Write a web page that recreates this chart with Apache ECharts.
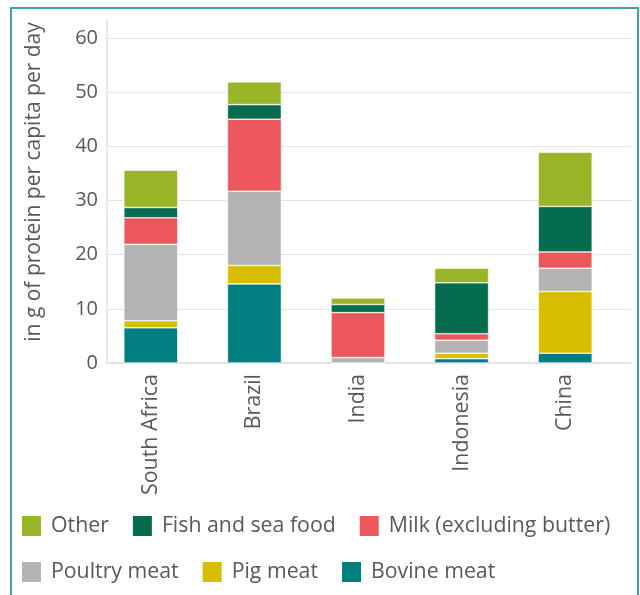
<!DOCTYPE html>
<html>
<head>
<meta charset="utf-8">
<script src="https://cdn.jsdelivr.net/npm/echarts@6/dist/echarts.min.js"></script>
<style>
  html, body { margin: 0; padding: 0; background: #fff; }
  #chart { width: 640px; height: 595px; }
</style>
</head>
<body>
<div id="chart"></div>
<script>
const countries = ["South Africa", "Brazil", "India", "Indonesia", "China"];

// g of protein per capita per day, stacked bottom -> top
const bovine = [6.5, 14.6, 0, 0.8, 1.8];
const pig = [1.3, 3.4, 0, 1.0, 11.4];
const poultry = [14.1, 13.7, 1.0, 2.4, 4.3];
const milk = [4.9, 13.3, 8.3, 1.2, 3.0];
const fish = [1.9, 2.7, 1.5, 9.4, 8.4];
const other = [6.9, 4.2, 1.2, 2.7, 10.0];

const legendOrder = ["Other", "Fish and sea food", "Milk (excluding butter)", "Poultry meat", "Pig meat", "Bovine meat"];

const font = "'Open Sans', sans-serif";
const textColor = "#595959";
const lineColor = "#e3e3e3";

const chart = echarts.init(document.getElementById("chart"));

const makeSeries = (name, data, color) => ({
  name: name,
  type: "bar",
  stack: "total",
  xAxisIndex: 1,
  yAxisIndex: 1,
  barWidth: 54,
  itemStyle: { color: color, borderColor: "#ffffff", borderWidth: 0.6 },
  data: data,
});

const option = {
  animation: false,
  textStyle: { fontFamily: font },
  graphic: [
    {
      type: "rect",
      shape: { x: 11, y: 8, width: 627, height: 620 },
      style: { fill: "none", stroke: "#43a3a3", lineWidth: 2 },
    },
  ],
  grid: [
    // axes + gridlines
    { left: 107, right: 9, top: 19, bottom: 232 },
    // bars
    { left: 99, width: 518, top: 19, bottom: 232 },
  ],
  legend: {
    data: legendOrder,
    left: 15,
    top: 509,
    width: 615,
    itemWidth: 21,
    itemHeight: 22,
    itemGap: 22,
    icon: "rect",
    textStyle: {
      fontFamily: font,
      fontSize: 21.3,
      color: textColor,
      padding: [0, 0, 0, 4],
    },
  },
  xAxis: [
    {
      type: "category",
      gridIndex: 0,
      data: countries,
      axisLine: { show: true, lineStyle: { color: lineColor, width: 2 } },
      axisTick: { show: false },
      axisLabel: { show: false },
    },
    {
      type: "category",
      gridIndex: 1,
      data: countries,
      axisLine: { show: false },
      axisTick: { show: false },
      axisLabel: {
        rotate: 90,
        margin: 11,
        fontFamily: font,
        fontSize: 21.4,
        color: textColor,
      },
    },
  ],
  yAxis: [
    {
      type: "value",
      gridIndex: 0,
      min: 0,
      max: 63.5,
      interval: 10,
      name: "in g of protein per capita per day",
      nameLocation: "middle",
      nameGap: 62,
      nameTextStyle: {
        fontFamily: font,
        fontSize: 21,
        color: textColor,
        padding: [0, 0, 0, 18],
      },
      axisLine: { show: true, lineStyle: { color: lineColor, width: 1.5 } },
      axisTick: { show: false },
      axisLabel: {
        showMaxLabel: false,
        margin: 9,
        fontFamily: font,
        fontSize: 20,
        color: textColor,
      },
      splitLine: { showMaxLine: false, lineStyle: { color: lineColor, width: 1 } },
    },
    {
      type: "value",
      gridIndex: 1,
      min: 0,
      max: 63.5,
      show: false,
      splitLine: { show: false },
    },
  ],
  series: [
    makeSeries("Bovine meat", bovine, "#017f80"),
    makeSeries("Pig meat", pig, "#d7be00"),
    makeSeries("Poultry meat", poultry, "#b3b3b3"),
    makeSeries("Milk (excluding butter)", milk, "#eb575b"),
    makeSeries("Fish and sea food", fish, "#066c4f"),
    makeSeries("Other", other, "#97b526"),
  ],
};

chart.setOption(option);
</script>
</body>
</html>
